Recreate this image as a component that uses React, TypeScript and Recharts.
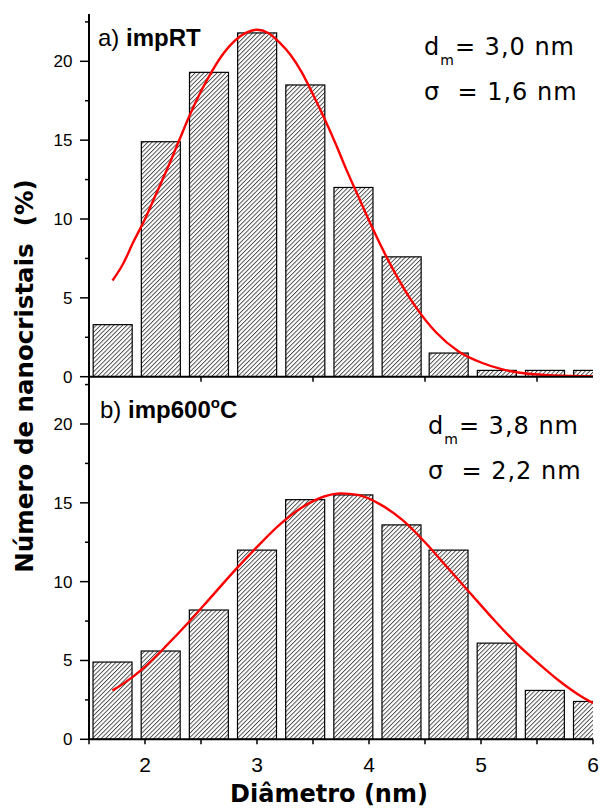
import React from "react"
import { Bar, ComposedChart, Line, XAxis, YAxis } from "recharts"

// bin centres (nm) and histogram heights (%)
const binCenters = [1.71, 2.14, 2.57, 3.0, 3.43, 3.86, 4.29, 4.71, 5.14, 5.57, 6.0]
const countsRT = [3.3, 14.9, 19.3, 21.8, 18.5, 12.0, 7.6, 1.5, 0.4, 0.4, 0.4]
const counts600 = [4.9, 5.6, 8.2, 12.0, 15.2, 15.5, 13.6, 12.0, 6.1, 3.1, 2.4]

// fitted curves
const fitXRT = [1.71, 1.8, 1.9, 2.0, 2.1, 2.2, 2.3, 2.4, 2.5, 2.6, 2.7, 2.8, 2.9, 3.0, 3.1, 3.2, 3.3, 3.4, 3.5, 3.6, 3.7, 3.8, 3.9, 4.0, 4.2, 4.4, 4.6, 4.8, 5.0, 5.2, 5.4, 5.6, 5.8, 6.0]
const fitYRT = [6.1, 7.1, 8.6, 10.0, 11.6, 13.2, 14.9, 16.6, 18.1, 19.4, 20.5, 21.3, 21.8, 22.0, 21.8, 21.2, 20.4, 19.3, 17.9, 16.4, 14.8, 13.1, 11.5, 9.9, 7.0, 4.6, 2.8, 1.6, 0.9, 0.45, 0.2, 0.1, 0.05, 0.02]
const fitX600 = [1.71, 1.8, 2.0, 2.2, 2.4, 2.6, 2.8, 3.0, 3.2, 3.4, 3.6, 3.75, 3.9, 4.1, 4.3, 4.5, 4.7, 4.9, 5.1, 5.3, 5.5, 5.7, 5.9, 6.0]
const fitY600 = [3.1, 3.5, 4.6, 6.0, 7.5, 9.1, 10.7, 12.2, 13.6, 14.7, 15.4, 15.6, 15.5, 14.9, 13.9, 12.5, 10.9, 9.3, 7.7, 6.2, 4.9, 3.7, 2.7, 2.3]

const xTicks = [1.5, 2, 2.5, 3, 3.5, 4, 4.5, 5, 5.5, 6]
const yTicks = [0, 2.5, 5, 7.5, 10, 12.5, 15, 17.5, 20, 22.5]

const binsRT = binCenters.map((x, i) => ({ x, v: countsRT[i] }))
const bins600 = binCenters.map((x, i) => ({ x, v: counts600[i] }))
const curveRT = fitXRT.map((x, i) => ({ x, y: fitYRT[i] }))
const curve600 = fitX600.map((x, i) => ({ x, y: fitY600[i] }))

const arial = "'Liberation Sans', Arial, sans-serif"
const dejavu = "'DejaVu Sans', Verdana, sans-serif"
const BAR_W = 39

const LeftTick = (props: any) => {
  const { x, y, payload } = props
  const major = payload.value % 5 === 0
  return (
    <g>
      <line x1={x} x2={x - (major ? 9 : 4)} y1={y} y2={y} stroke="#000" strokeWidth={1.5} />
      {major && (
        <text x={x - 16.5} y={y + 6} textAnchor="end" fontSize={17} fontFamily={arial} fill="#000">
          {payload.value}
        </text>
      )}
    </g>
  )
}

const RightTick = (props: any) => {
  const { x, y } = props
  return <line x1={x} x2={x - 4} y1={y} y2={y} stroke="#000" strokeWidth={1.5} />
}

const TopTick = (props: any) => {
  const { x, y } = props
  return <line x1={x} x2={x} y1={y} y2={y + 5} stroke="#000" strokeWidth={1.5} />
}

const MidTick = (props: any) => {
  const { x, y, payload } = props
  if (Number.isInteger(payload.value)) return <g />
  return <line x1={x} x2={x} y1={y} y2={y + 5} stroke="#000" strokeWidth={1.5} />
}

const BottomTick = (props: any) => {
  const { x, y, payload } = props
  return (
    <g>
      <line x1={x} x2={x} y1={y} y2={y + 5} stroke="#000" strokeWidth={1.5} />
      {Number.isInteger(payload.value) && (
        <text x={x} y={y + 32.4} textAnchor="middle" fontSize={21} fontFamily={arial} fill="#000">
          {payload.value}
        </text>
      )}
    </g>
  )
}

// recharts gives a very thin band on a numeric axis, so widen each bar around its centre
const HistBar = (props: any) => {
  const { x, y, width, height, fill } = props
  const cx = x + width / 2
  return <rect x={cx - BAR_W / 2} y={y} width={BAR_W} height={height} fill={fill} stroke="#000" strokeWidth={1.2} />
}

const Hatch = ({ id }: { id: string }) => (
  <defs>
    <pattern id={id} patternUnits="userSpaceOnUse" width={3.1} height={10} patternTransform="rotate(45)">
      <rect width={3.1} height={10} fill="#fff" />
      <line x1={0.5} y1={0} x2={0.5} y2={10} stroke="#000" strokeWidth={0.75} />
    </pattern>
  </defs>
)

const axisLine = { stroke: "#000", strokeWidth: 2 }

export default function App() {
  return (
    <div style={{ position: "absolute", left: 0, top: 0, width: 600, height: 808, background: "#fff" }}>
      <div style={{ position: "absolute", left: 0, top: 0 }}>
        <ComposedChart width={600} height={390} data={binsRT} margin={{ top: 14, right: 7, bottom: 0, left: 0 }}>
          <Hatch id="hatchA" />
          <XAxis dataKey="x" type="number" domain={[1.5, 6]} allowDataOverflow ticks={xTicks} interval={0}
            height={13.3} tickSize={0} tickMargin={0} tickLine={false} axisLine={axisLine} tick={<MidTick />} />
          <XAxis xAxisId="top" orientation="top" dataKey="x" type="number" domain={[1.5, 6]} allowDataOverflow
            ticks={xTicks} interval={0} height={0} tickSize={0} tickMargin={0} tickLine={false} axisLine={axisLine} tick={<TopTick />} />
          <YAxis type="number" domain={[0, 23]} allowDataOverflow ticks={yTicks} interval={0} width={89}
            tickSize={0} tickMargin={0} tickLine={false} axisLine={axisLine} tick={<LeftTick />} />
          <YAxis yAxisId="r" orientation="right" type="number" domain={[0, 23]} allowDataOverflow ticks={yTicks}
            interval={0} width={0} tickSize={0} tickMargin={0} tickLine={false} axisLine={axisLine} tick={<RightTick />} />
          <Bar dataKey="v" fill="url(#hatchA)" shape={<HistBar />} isAnimationActive={false} />
          <Line data={curveRT} dataKey="y" type="monotone" stroke="#ff0000" strokeWidth={2.4} dot={false} isAnimationActive={false} />
        </ComposedChart>
      </div>
      <div style={{ position: "absolute", left: 0, top: 370 }}>
        <ComposedChart width={600} height={438} data={bins600} margin={{ top: 6.7, right: 7, bottom: 0, left: 0 }}>
          <Hatch id="hatchB" />
          <XAxis dataKey="x" type="number" domain={[1.5, 6]} allowDataOverflow ticks={xTicks} interval={0}
            height={68.7} tickSize={0} tickMargin={0} tickLine={false} axisLine={axisLine} tick={<BottomTick />} />
          <YAxis type="number" domain={[0, 23]} allowDataOverflow ticks={yTicks} interval={0} width={89}
            tickSize={0} tickMargin={0} tickLine={false} axisLine={axisLine} tick={<LeftTick />} />
          <YAxis yAxisId="r" orientation="right" type="number" domain={[0, 23]} allowDataOverflow ticks={yTicks}
            interval={0} width={0} tickSize={0} tickMargin={0} tickLine={false} axisLine={axisLine} tick={<RightTick />} />
          <Bar dataKey="v" fill="url(#hatchB)" shape={<HistBar />} isAnimationActive={false} />
          <Line data={curve600} dataKey="y" type="monotone" stroke="#ff0000" strokeWidth={2.4} dot={false} isAnimationActive={false} />
        </ComposedChart>
      </div>
      <svg width={600} height={808} style={{ position: "absolute", left: 0, top: 0, pointerEvents: "none" }}>
        <text x={98} y={45.7} fontSize={24} fontFamily={arial} fill="#000">
          a) <tspan fontWeight="bold">impRT</tspan>
        </text>
        <text x={424} y={55} fontSize={24} fontFamily={dejavu} fill="#000" letterSpacing={1}>
          d<tspan fontSize={14} dy={10}>m</tspan><tspan dy={-10}>= 3,0 nm</tspan>
        </text>
        <text x={424} y={100} fontSize={24} fontFamily={dejavu} fill="#000" letterSpacing={1} style={{ whiteSpace: "pre" }}>
          σ  = 1,6 nm
        </text>
        <text x={100} y={418} fontSize={24} fontFamily={arial} fill="#000">
          b) <tspan fontWeight="bold">imp600</tspan><tspan fontWeight="bold" fontSize={15} dy={-10}>o</tspan><tspan fontWeight="bold" dy={10}>C</tspan>
        </text>
        <text x={428} y={434} fontSize={24} fontFamily={dejavu} fill="#000" letterSpacing={1}>
          d<tspan fontSize={14} dy={10}>m</tspan><tspan dy={-10}>= 3,8 nm</tspan>
        </text>
        <text x={428} y={479} fontSize={24} fontFamily={dejavu} fill="#000" letterSpacing={1} style={{ whiteSpace: "pre" }}>
          σ  = 2,2 nm
        </text>
        <text x={33} y={376} transform="rotate(-90 33 376)" textAnchor="middle" fontSize={24.5} fontWeight="bold"
          fontFamily={dejavu} fill="#000" style={{ whiteSpace: "pre" }}>
          Número de nanocristais  (%)
        </text>
        <text x={329} y={802} textAnchor="middle" fontSize={24} fontWeight="bold" fontFamily={dejavu} fill="#000">
          Diâmetro (nm)
        </text>
      </svg>
    </div>
  )
}
